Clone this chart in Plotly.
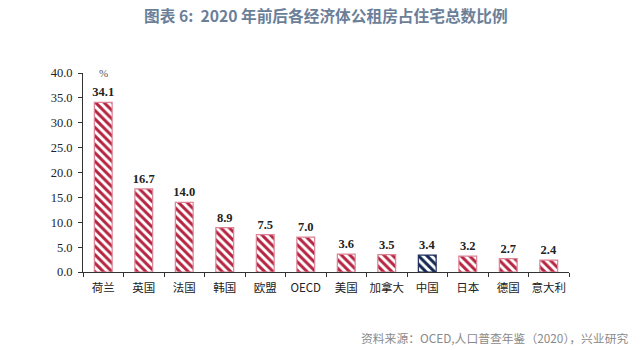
import plotly.graph_objects as go

categories = ["荷兰", "英国", "法国", "韩国", "欧盟", "OECD", "美国", "加拿大", "中国", "日本", "德国", "意大利"]
values = [34.1, 16.7, 14.0, 8.9, 7.5, 7.0, 3.6, 3.5, 3.4, 3.2, 2.7, 2.4]
highlight = "中国"

red = "#B52440"
navy = "#12264F"
fg = [navy if c == highlight else red for c in categories]
edge = ["#1E2F5C" if c == highlight else "#DC8496" for c in categories]

fig = go.Figure()
fig.add_trace(go.Bar(
    x=categories, y=values, width=0.44,
    marker=dict(color="white", line=dict(color=edge, width=1.2),
                pattern=dict(shape="\\", fgcolor=fg, bgcolor="white", size=6, solidity=0.5, fgopacity=1)),
    text=[f"<b>{v:.1f}</b>" for v in values], textposition="outside", cliponaxis=False,
    constraintext="none",
    textfont=dict(family="Liberation Serif", size=12.5, color="#222222"),
    hoverinfo="skip",
))

fig.update_layout(
    width=640, height=350, margin=dict(l=83, r=71, t=73, b=78),
    paper_bgcolor="white", plot_bgcolor="white", showlegend=False,
    bargap=0.5,
    xaxis=dict(showline=True, linecolor="#333333", linewidth=1, ticks="outside", tickson="boundaries",
               ticklen=4, tickcolor="#333333", tickangle=0, ticklabelstandoff=5,
               tickfont=dict(family="Noto Sans CJK SC", size=11.5, color="#222222")),
    yaxis=dict(range=[0, 40], dtick=5, tickformat=".1f", showline=True, linecolor="#333333", linewidth=1,
               ticks="outside", ticklen=4, tickcolor="#333333", showgrid=False, zeroline=False,
               ticklabelstandoff=3,
               tickfont=dict(family="Liberation Serif", size=12.5, color="#222222")),
    annotations=[
        dict(text="<b>图表 6:  2020 年前后各经济体公租房占住宅总数比例</b>", x=0.5, xref="paper", xanchor="center",
             y=1 + (73 - 15) / (350 - 73 - 78), yref="paper", yanchor="middle", showarrow=False,
             font=dict(family="Noto Sans CJK SC", size=15.7, color="#6B7F99")),
        dict(text="%", x=0, xref="x", xanchor="center", y=1 + (73 - 73) / (350 - 73 - 78), yref="paper",
             yanchor="middle", showarrow=False,
             font=dict(family="Liberation Serif", size=11, color="#555555")),
        dict(text="资料来源：OCED,人口普查年鉴（2020），兴业研究", xref="paper", x=1.125, xanchor="right",
             yref="paper", y=-(337 - 272) / (350 - 73 - 78), yanchor="middle", showarrow=False,
             font=dict(family="Noto Sans CJK SC", size=11.8, color="#8A8A8A")),
    ],
)
fig.write_html("out.html")
